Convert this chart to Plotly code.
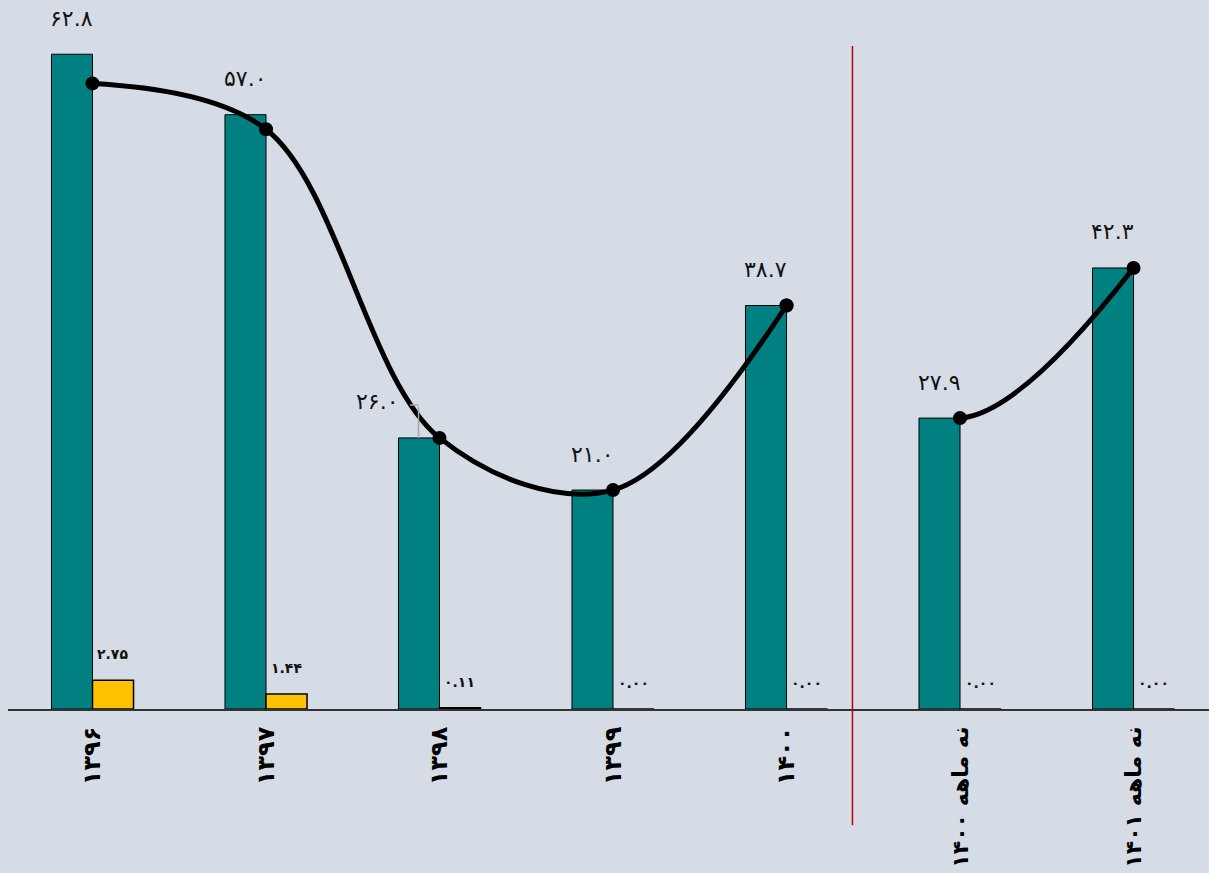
import math
import plotly.graph_objects as go

categories = ["۱۳۹۶", "۱۳۹۷", "۱۳۹۸", "۱۳۹۹", "۱۴۰۰", "نه ماهه ۱۴۰۰", "نه ماهه ۱۴۰۱"]
teal_values = [62.8, 57.0, 26.0, 21.0, 38.7, 27.9, 42.3]
yellow_values = [2.75, 1.44, 0.11, 0.0, 0.0, 0.0, 0.0]
line_values = [60.0, 55.6, 26.0, 21.0, 38.7, 27.9, 42.3]
teal_labels = ["۶۲.۸", "۵۷.۰", "۲۶.۰", "۲۱.۰", "۳۸.۷", "۲۷.۹", "۴۲.۳"]
yellow_labels = ["۲.۷۵", "۱.۴۴", "۰.۱۱", "۰.۰۰", "۰.۰۰", "۰.۰۰", "۰.۰۰"]

FONT = "DejaVu Sans"
FIG_W, FIG_H = 1209, 873
ML, MR, MT, MB = 8, 0, 0, 164
XR = [-0.487, 6.435]
YMAX = 68.0
SMOOTH = 1.0

# --- arc length of the hidden connector segment of the nine-month spline ---
PW, PH = FIG_W - ML - MR, FIG_H - MT - MB
def px(i):
    return (i - XR[0]) / (XR[1] - XR[0]) * PW
def py(v):
    return (1 - v / YMAX) * PH
def tangent(prev, this, nxt, s):
    d1x, d1y = prev[0] - this[0], prev[1] - this[1]
    d2x, d2y = nxt[0] - this[0], nxt[1] - this[1]
    d1a = (d1x * d1x + d1y * d1y) ** 0.25
    d2a = (d2x * d2x + d2y * d2y) ** 0.25
    numx = (d2a * d2a * d1x - d1a * d1a * d2x) * s
    numy = (d2a * d2a * d1y - d1a * d1a * d2y) * s
    den1 = 3 * d2a * (d1a + d2a)
    return (this[0] + numx / den1, this[1] + numy / den1)
nine_idx = [6, 5, 4]
p = [(px(i), py(line_values[i])) for i in nine_idx]
c0 = tangent(p[0], p[1], p[2], SMOOTH)
arc = 0.0
prev = p[0]
for k in range(1, 801):
    t = k / 800
    q = ((1 - t) ** 2 * p[0][0] + 2 * (1 - t) * t * c0[0] + t * t * p[1][0],
         (1 - t) ** 2 * p[0][1] + 2 * (1 - t) * t * c0[1] + t * t * p[1][1])
    arc += math.hypot(q[0] - prev[0], q[1] - prev[1])
    prev = q

fig = go.Figure()
fig.add_bar(x=categories, y=teal_values, marker=dict(color="#008080", line=dict(color="#000000", width=1)),
            offsetgroup="a", hoverinfo="skip")
fig.add_bar(x=categories, y=yellow_values, marker=dict(color="#FFC000", line=dict(color="#000000", width=1.5)),
            offsetgroup="b", hoverinfo="skip")

fig.add_scatter(x=categories[:5], y=line_values[:5], mode="lines+markers",
                line=dict(color="#000000", width=5, shape="spline", smoothing=SMOOTH),
                marker=dict(size=14, color="#000000"), hoverinfo="skip")
fig.add_scatter(x=[categories[i] for i in nine_idx], y=[line_values[i] for i in nine_idx],
                mode="lines+markers",
                line=dict(color="#000000", width=5, shape="spline", smoothing=SMOOTH,
                          dash=f"{arc + 3:.1f}px,5000px"),
                marker=dict(size=14, color="#000000"), hoverinfo="skip")

annotations = []
for i, (c, v, t) in enumerate(zip(categories, teal_values, teal_labels)):
    xs = -21
    if i == 2:
        xs = -63
        # leader line of the displaced label
        annotations.append(dict(x=c, y=v, xref="x", yref="y", text="", showarrow=True, arrowhead=0,
                                ax=0, ay=-33, xshift=-21, arrowcolor="#A6A6A6", arrowwidth=1.5,
                                standoff=0, startstandoff=0))
        annotations.append(dict(x=c, y=v, xref="x", yref="y", text="", showarrow=True, arrowhead=0,
                                ax=-10, ay=0, xshift=-21, yshift=33, arrowcolor="#A6A6A6", arrowwidth=1.5,
                                standoff=0, startstandoff=0))
    annotations.append(dict(x=c, y=v, xref="x", yref="y", text=t, showarrow=False,
                            xshift=xs, yshift=36, font=dict(family=FONT, size=22, color="#111111")))
for c, v, t in zip(categories, yellow_values, yellow_labels):
    annotations.append(dict(x=c, y=v, xref="x", yref="y", text="<b>" + t + "</b>", showarrow=False,
                            xshift=20, yshift=26, font=dict(family=FONT, size=14, color="#111111")))

tick_text = []
for c in categories:
    if " " in c:
        tick_text.append("<b><span style='font-size:22px'>" + c + "</span></b>")
    else:
        tick_text.append("<b>" + c + "</b>")

fig.update_layout(
    width=FIG_W, height=FIG_H,
    margin=dict(l=ML, r=MR, t=MT, b=MB),
    paper_bgcolor="#D6DCE5", plot_bgcolor="#D6DCE5",
    barmode="group", bargap=0.527, bargroupgap=0,
    showlegend=False,
    annotations=annotations,
    shapes=[dict(type="line", xref="x", yref="paper", x0=4.38, x1=4.38, y0=0.935, y1=-0.164,
                 line=dict(color="#C00000", width=1.5))],
    xaxis=dict(type="category", range=XR, tickangle=-90, showgrid=False,
               showline=True, linecolor="#333333", linewidth=2, ticks="",
               ticklabelstandoff=6, tickmode="array", tickvals=categories, ticktext=tick_text,
               tickfont=dict(family=FONT, size=24, color="#000000"), automargin=False),
    yaxis=dict(range=[0, YMAX], visible=False, showgrid=False, zeroline=False),
)
fig.write_html("out.html", config={"displayModeBar": False},
               post_script="document.body.style.margin='0';document.body.style.overflow='hidden';")
